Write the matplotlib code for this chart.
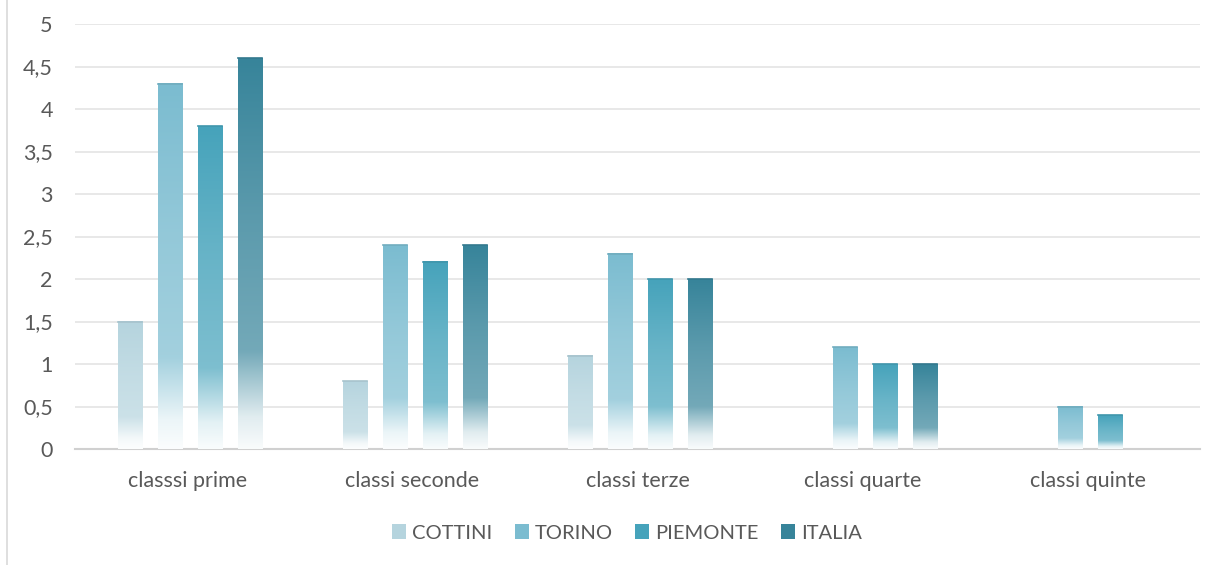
import matplotlib
matplotlib.use("Agg")
import matplotlib.pyplot as plt
import numpy as np
from matplotlib.colors import to_rgb
from matplotlib.patches import Patch
from matplotlib.lines import Line2D

categories = ["classsi prime", "classi seconde", "classi terze", "classi quarte", "classi quinte"]
series = ["COTTINI", "TORINO", "PIEMONTE", "ITALIA"]
cottini = [1.5, 0.8, 1.1, 0, 0]
torino = [4.3, 2.4, 2.3, 1.2, 0.5]
piemonte = [3.8, 2.2, 2.0, 1.0, 0.4]
italia = [4.6, 2.4, 2.0, 1.0, 0]
values = [cottini, torino, piemonte, italia]
colors = ["#b5d4de", "#7bbcd0", "#46a3bb", "#37849a"]

plt.rcParams['font.family'] = ['Lato', 'DejaVu Sans']

fig = plt.figure(figsize=(12.24, 5.65), dpi=100)
ax = fig.add_axes([75/1224, 1-449/565, 1125/1224, 425/565])

# whitening along the bar height (bottom -> top)
knots_t = [0.0, 0.08, 0.25, 0.6, 1.0]
knots_w = [0.97, 0.85, 0.3, 0.18, 0.0]
tt = np.linspace(0, 1, 200)
wmix = np.interp(tt, knots_t, knots_w)

x = np.arange(len(categories))
step = 0.178
width = 0.107
for i, (vals, col) in enumerate(zip(values, colors)):
    c = np.array(to_rgb(col))
    grad = (1 - wmix)[:, None] * c[None, :] + wmix[:, None] * np.ones(3)[None, :]
    img = grad[:, None, :]
    for j, v in enumerate(vals):
        if v <= 0:
            continue
        xc = x[j] + (i - 1.5) * step + 0.01
        ax.imshow(img, extent=[xc - width/2, xc + width/2, 0, v], origin="lower",
                  aspect="auto", zorder=3, interpolation="bilinear")
        ax.plot([xc - width/2, xc + width/2], [v, v], color=c * 0.92, lw=1.2, zorder=4)

ax.set_xlim(-0.5, len(categories) - 0.5)
ax.set_ylim(0, 5)
ax.set_yticks(np.arange(0, 5.01, 0.5))
ax.set_yticklabels([f"{t:g}".replace(".", ",") for t in np.arange(0, 5.01, 0.5)])
ax.set_xticks(x)
ax.set_xticklabels(categories)
ax.tick_params(length=0, labelsize=15.5, colors="#595959")
ax.tick_params(axis="y", pad=16)
ax.tick_params(axis="x", pad=16)
ax.grid(axis="y", color="#e4e4e4", lw=1.2, zorder=0)
ax.set_axisbelow(True)
for s in ["top", "right", "left"]:
    ax.spines[s].set_visible(False)
ax.spines["bottom"].set_color("#d0d0d0")
ax.spines["bottom"].set_linewidth(1.5)

handles = [Patch(facecolor=c, edgecolor="none") for c in colors]
fig.legend(handles, series, loc="center", bbox_to_anchor=(627/1224, 1-533/565), ncol=4,
           frameon=False, fontsize=14.5, labelcolor="#595959", handlelength=0.7,
           handleheight=0.7, handletextpad=0.3, columnspacing=1.1)

fig.add_artist(Line2D([7/1224, 7/1224], [0, 1], color="#d9d9d9", lw=1.2))

fig.savefig("out.png", dpi=100)
